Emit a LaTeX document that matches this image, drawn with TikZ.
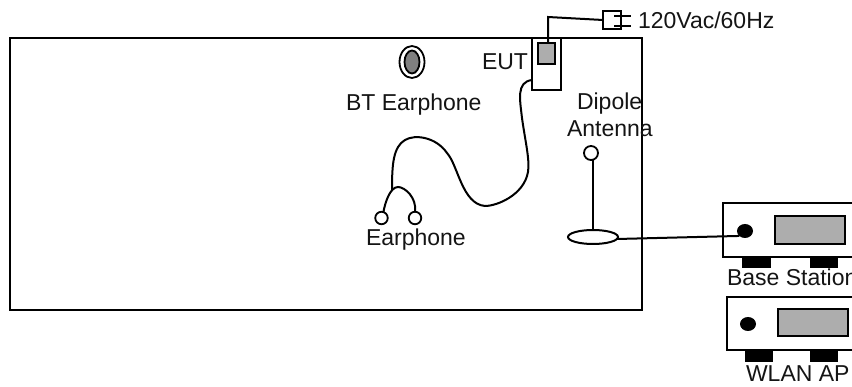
\documentclass[tikz,border=0pt]{standalone}
\usepackage{fontspec}
\setmainfont{Liberation Sans}
\usetikzlibrary{shapes.geometric}
\begin{document}
\begin{tikzpicture}[x=1pt,y=-1pt,
  every node/.style={inner sep=0pt,outer sep=0pt},
  lbl/.style={font=\fontsize{23}{26}\selectfont,text=black!92,anchor=base west},
  ln/.style={draw=black,line width=2pt},
  hatch/.style={draw=black,line width=2pt,fill=black!32},
  foot/.style={fill=black},
  ringn/.style={circle,draw=black,line width=1.8pt,fill=white,minimum size=12.5pt}]
\useasboundingbox (0,0) rectangle (852,387);
\clip (0,0) rectangle (852,387);
% main chamber
\node[ln,draw,rectangle,minimum width=632pt,minimum height=272pt,anchor=north west] (room) at (10,38) {};
% EUT
\node[ln,draw,rectangle,fill=white,minimum width=29pt,minimum height=52pt,anchor=north west] (eut) at (532,38) {};
\node[hatch,rectangle,minimum width=17pt,minimum height=21pt,anchor=north west] (eutin) at (538,43) {};
\node[ln,draw,rectangle,minimum width=18pt,minimum height=18pt,anchor=north west] (plug) at (603,11) {};
\coordinate (pa) at (631,16);
\coordinate (pb) at (631,26);
\coordinate (pc) at (614,16);
\coordinate (pd) at (614,26);
\draw[ln] (pc) -- (pa);
\draw[ln] (pd) -- (pb);
\coordinate (bend) at (548,17);
\draw[ln] (eutin.north -| bend) -- (bend) -- (plug.west);
\node[lbl] (mains) at (638,29) {120Vac/60Hz};
\node[lbl] (eutl) at (482,70) {EUT};
% BT earphone
\node[draw=black,line width=1.8pt,ellipse,minimum width=25pt,minimum height=32pt] (bt) at (412,62) {};
\node[draw=black,line width=1.8pt,fill=black!50,ellipse,minimum width=15pt,minimum height=23pt] (btin) at (412,62) {};
\node[lbl] (btl) at (346,111) {BT Earphone};
% earphone
\node[ringn] (el) at (381.5,218) {};
\node[ringn] (er) at (415,218) {};
\coordinate (fork) at (392,190);
\draw[ln] (532,80) .. controls (516,82) and (520,100) .. (522,118) .. controls (525,140) and (530,160) .. (528,172) .. controls (524,195) and (497,206) .. (485,206) .. controls (462,204) and (458,165) .. (447,153) .. controls (436,137) and (415,134) .. (405,140) .. controls (393,147) and (392,165) .. (fork);
\draw[ln] (el.north) ++(2,0) .. controls (385,203) and (390,187) .. (398,187) .. controls (405,187) and (417,198) .. (er.north);
\node[lbl] (ell) at (366,246) {Earphone};
% dipole
\node[lbl] (d1) at (577,110) {Dipole};
\node[lbl] (d2) at (567,137) {Antenna};
\node[ringn,minimum size=14pt] (ant) at (591,153) {};
\node[ln,draw,ellipse,minimum width=50pt,minimum height=14pt] (base) at (593,237) {};
\draw[ln] (ant.south -| base.north) -- (base.north);
% Base station
\node[ln,draw,rectangle,minimum width=160pt,minimum height=54pt,anchor=north west] (bs) at (723,203) {};
\node[fill=black,ellipse,minimum width=16pt,minimum height=14pt] (bsd) at (745,231) {};
\node[hatch,rectangle,minimum width=70pt,minimum height=28pt,anchor=north west] (bsg) at (775,216) {};
\node[foot,minimum width=29pt,minimum height=11pt,anchor=north west] (f1) at (742,257) {};
\node[foot,minimum width=28pt,minimum height=11pt,anchor=north west] (f2) at (810,257) {};
\node[lbl] (bsl) at (727,286) {Base Station};
\coordinate (dipa) at (617,239);
\draw[ln] (dipa) -- (bsd.south west);
% WLAN
\node[ln,draw,rectangle,minimum width=160pt,minimum height=53pt,anchor=north west] (ap) at (727,297) {};
\node[fill=black,ellipse,minimum width=16pt,minimum height=14pt] (apd) at (748,324) {};
\node[hatch,rectangle,minimum width=70pt,minimum height=27pt,anchor=north west] (apg) at (778,309) {};
\node[foot,minimum width=28pt,minimum height=12pt,anchor=north west] (f3) at (745,350) {};
\node[foot,minimum width=28pt,minimum height=12pt,anchor=north west] (f4) at (810,350) {};
\node[lbl] (apl) at (746,382) {WLAN AP};
\end{tikzpicture}
\end{document}
